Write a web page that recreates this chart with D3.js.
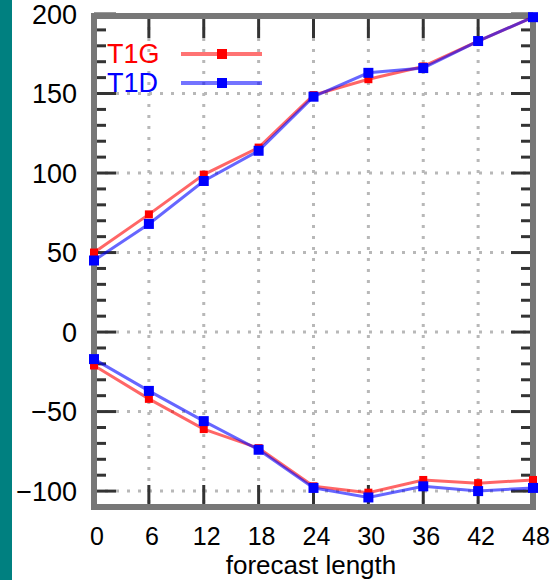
<!DOCTYPE html>
<html>
<head>
<meta charset="utf-8">
<script src="https://cdn.jsdelivr.net/npm/d3@7"></script>
<style>
  html, body { margin: 0; padding: 0; background: #fff; }
  svg { display: block; font-family: "Liberation Sans", Arial, sans-serif; }
</style>
</head>
<body>
<div id="chart"></div>
<script>
// forecast lengths (hours)
const leads = [0, 6, 12, 18, 24, 30, 36, 42, 48]
// upper and lower curves of each experiment
const t1gUpper = [50, 74, 99, 116, 149, 159, 167, 183, 198]
const t1dUpper = [45, 68, 95, 114, 148, 163, 166, 183, 198]
const t1gLower = [-21, -42, -61, -73, -97, -101, -93, -95, -93]
const t1dLower = [-17, -37, -56, -74, -98, -104, -97, -100, -98]
const yTicks = [-100, -50, 0, 50, 100, 150, 200]
const seriesNames = ['T1G', 'T1D']

const width = 552
const height = 580
const margin = { top: 16, right: 19, bottom: 73, left: 94 }

const svg = d3.select('#chart')
  .append('svg')
  .attr('width', width)
  .attr('height', height)

// teal strip on the left edge
svg.append('rect')
  .attr('x', 0).attr('y', 0)
  .attr('width', 12).attr('height', height)
  .attr('fill', '#008080')

const x = d3.scaleLinear()
  .domain([0, 48])
  .range([margin.left, width - margin.right])
const y = d3.scaleLinear()
  .domain([-110, 200])
  .range([height - margin.bottom, 14])

const x0 = x.range()[0], x1 = x.range()[1]
const yb = y(-110), yt = margin.top

// dotted grid
const grid = svg.append('g').attr('stroke', '#b8b8b8').attr('stroke-width', 3)
  .attr('stroke-dasharray', '3,8')
grid.selectAll('.gx').data(leads.slice(1, -1)).enter().append('line')
  .attr('x1', d => x(d)).attr('x2', d => x(d))
  .attr('y1', yt).attr('y2', yb)
grid.selectAll('.gy').data(yTicks.filter(d => d < 200)).enter().append('line')
  .attr('x1', x0).attr('x2', x1)
  .attr('y1', d => y(d)).attr('y2', d => y(d))

// minor and major ticks on all four sides
const minor = d3.range(-100, 201, 10)
const ticks = svg.append('g').attr('stroke', '#333')
ticks.selectAll('.ml').data(minor).enter().append('line')
  .attr('x1', x0).attr('x2', d => x0 + (d % 50 === 0 ? 22 : 12))
  .attr('y1', d => y(d)).attr('y2', d => y(d))
  .attr('stroke-width', 3)
ticks.selectAll('.mr').data(minor).enter().append('line')
  .attr('x1', x1).attr('x2', d => x1 - (d % 50 === 0 ? 22 : 12))
  .attr('y1', d => y(d)).attr('y2', d => y(d))
  .attr('stroke-width', 3)
ticks.selectAll('.tb').data(leads).enter().append('line')
  .attr('x1', d => x(d)).attr('x2', d => x(d))
  .attr('y1', yb).attr('y2', yb - 22)
  .attr('stroke-width', 3)
ticks.selectAll('.tt').data(leads).enter().append('line')
  .attr('x1', d => x(d)).attr('x2', d => x(d))
  .attr('y1', yt).attr('y2', yt + 22)
  .attr('stroke-width', 3)

// frame
svg.append('rect')
  .attr('x', x0).attr('y', yt)
  .attr('width', x1 - x0).attr('height', yb - yt)
  .attr('fill', 'none')
  .attr('stroke', '#777')
  .attr('stroke-width', 6)

// tick labels
svg.append('g').selectAll('text').data(yTicks).enter().append('text')
  .attr('x', 77).attr('y', d => y(d))
  .attr('dy', '0.36em')
  .attr('text-anchor', 'end')
  .attr('font-size', 27)
  .text(d => d < 0 ? '\u2212' + Math.abs(d) : d)
svg.append('g').selectAll('text').data(leads).enter().append('text')
  .attr('x', d => x(d) + 3).attr('y', 545)
  .attr('text-anchor', 'middle')
  .attr('font-size', 25)
  .text(d => d)
svg.append('text')
  .attr('x', 311).attr('y', 574)
  .attr('text-anchor', 'middle')
  .attr('font-size', 26)
  .text('forecast length')

// series
const line = d3.line().x((d, i) => x(leads[i])).y(d => y(d))
const series = [
  { name: 'T1G', color: '#ff0000', parts: [t1gUpper, t1gLower], marker: 'x' },
  { name: 'T1D', color: '#0000ff', parts: [t1dUpper, t1dLower], marker: 'sq' }
]
series.forEach(s => {
  const g = svg.append('g')
  s.parts.forEach(vals => {
    g.append('path')
      .datum(vals)
      .attr('d', line)
      .attr('fill', 'none')
      .attr('stroke', s.color)
      .attr('stroke-opacity', 0.6)
      .attr('stroke-width', 3)
    g.selectAll(null).data(vals).enter().append('rect')
      .attr('x', (d, i) => x(leads[i]) - (s.marker === 'sq' ? 5 : 4))
      .attr('y', d => y(d) - (s.marker === 'sq' ? 5 : 4))
      .attr('width', s.marker === 'sq' ? 10 : 8)
      .attr('height', s.marker === 'sq' ? 10 : 8)
      .attr('fill', s.color)
  })
})

// legend
const legend = svg.append('g')
series.forEach((s, i) => {
  const ly = 54 + i * 29
  legend.append('text')
    .attr('x', 107).attr('y', ly + 9)
    .attr('font-size', 27)
    .attr('fill', s.color)
    .text(seriesNames[i])
  legend.append('line')
    .attr('x1', 181).attr('x2', 262)
    .attr('y1', ly).attr('y2', ly)
    .attr('stroke', s.color)
    .attr('stroke-opacity', 0.55)
    .attr('stroke-width', 4)
  legend.append('rect')
    .attr('x', 222 - 5).attr('y', ly - 5)
    .attr('width', 10).attr('height', 10)
    .attr('fill', s.color)
})
</script>
</body>
</html>
